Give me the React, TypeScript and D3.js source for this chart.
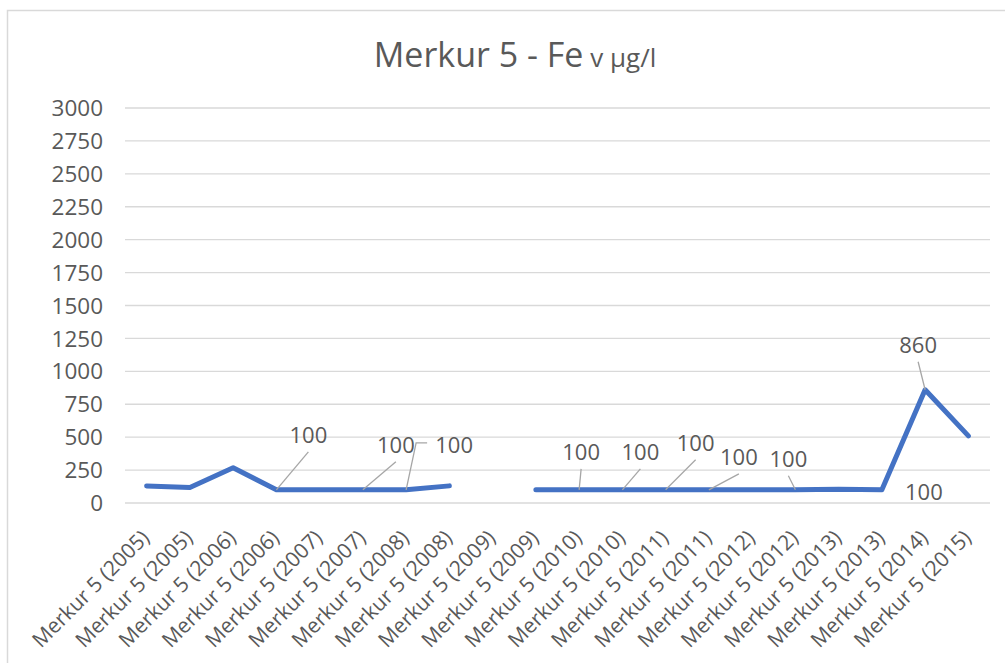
import React from "react";
import * as d3 from "d3";

const categories = [
  "Merkur 5 (2005)", "Merkur 5 (2005)", "Merkur 5 (2006)", "Merkur 5 (2006)",
  "Merkur 5 (2007)", "Merkur 5 (2007)", "Merkur 5 (2008)", "Merkur 5 (2008)",
  "Merkur 5 (2009)", "Merkur 5 (2009)", "Merkur 5 (2010)", "Merkur 5 (2010)",
  "Merkur 5 (2011)", "Merkur 5 (2011)", "Merkur 5 (2012)", "Merkur 5 (2012)",
  "Merkur 5 (2013)", "Merkur 5 (2013)", "Merkur 5 (2014)", "Merkur 5 (2015)",
];
const values: (number | null)[] = [
  130, 118, 268, 100, 100, 100, 100, 130, null, 100,
  100, 100, 100, 100, 100, 100, 105, 100, 860, 510,
];
const yTicks = [0, 250, 500, 750, 1000, 1250, 1500, 1750, 2000, 2250, 2500, 2750, 3000];

// data labels: index of point, label offset (dx, dy) of label centre, leader style
const labelPoints = [3, 5, 6, 10, 11, 12, 13, 15, 18, 17];
const labelOffsets: [number, number, string][] = [
  [32, -55, "line"],
  [33, -45, "line"],
  [48, -45, "elbow"],
  [2, -38, "line"],
  [18, -38, "line"],
  [30, -47, "line"],
  [30, -33, "line"],
  [-7, -31, "line"],
  [-7, -45, "line"],
  [42, 2, "none"],
];

const W = 1005;
const H = 663;
const left = 125;
const right = 990;
const top = 108;
const bottom = 503;
const FONT = "'Open Sans', 'DejaVu Sans', sans-serif";
const TXT = "#595959";

export default function App() {
  const x = d3.scaleBand<number>().domain(d3.range(categories.length)).range([left, right]);
  const y = d3.scaleLinear().domain([0, 3000]).range([bottom, top]);
  const cx = (i: number) => (x(i) as number) + x.bandwidth() / 2;

  const line = d3
    .line<number | null>()
    .defined((d) => d !== null)
    .x((_, i) => cx(i))
    .y((d) => y(d as number));

  return (
    <svg width={W} height={H} style={{ position: "absolute", left: 0, top: 0, background: "#fff" }}>
      <rect x={7.5} y={10.5} width={W + 10} height={H + 10} fill="#fff" stroke="#d9d9d9" strokeWidth={1.5} />
      <text x={515} y={67} textAnchor="middle" fontFamily={FONT} fill={TXT} fontSize={34}>
        Merkur 5 - Fe<tspan fontSize={26}> v µg/l</tspan>
      </text>
      {yTicks.map((t) => (
        <g key={t}>
          <line x1={left} x2={right} y1={y(t)} y2={y(t)} stroke="#d9d9d9" strokeWidth={1.3} />
          <text x={103} y={y(t)} dy="0.36em" textAnchor="end" fontFamily={FONT} fontSize={22.5} fill={TXT}>
            {t}
          </text>
        </g>
      ))}
      {categories.map((c, i) => (
        <text
          key={i}
          transform={`translate(${cx(i) + 4},${bottom + 36}) rotate(-45)`}
          textAnchor="end"
          fontFamily={FONT}
          fontSize={21}
          fill={TXT}
        >
          {c}
        </text>
      ))}
      <path d={line(values) || ""} fill="none" stroke="#4472c4" strokeWidth={5} strokeLinejoin="round" strokeLinecap="round" />
      {labelPoints.map((pi, k) => {
        const [dx, dy, kind] = labelOffsets[k];
        const px = cx(pi);
        const py = y(values[pi] as number);
        const lx = px + dx;
        const ly = py + dy;
        let leader = null;
        if (kind === "line") {
          leader = <line x1={px} y1={py} x2={lx} y2={ly + 17} stroke="#a6a6a6" strokeWidth={1.3} />;
        } else if (kind === "elbow") {
          leader = (
            <polyline
              points={`${px},${py} ${px + 10},${ly - 2} ${px + 21},${ly - 2}`}
              fill="none"
              stroke="#a6a6a6"
              strokeWidth={1.3}
            />
          );
        }
        return (
          <g key={k}>
            {leader}
            <text x={lx} y={ly} dy="0.36em" textAnchor="middle" fontFamily={FONT} fontSize={22} fill={TXT}>
              {values[pi]}
            </text>
          </g>
        );
      })}
    </svg>
  );
}
